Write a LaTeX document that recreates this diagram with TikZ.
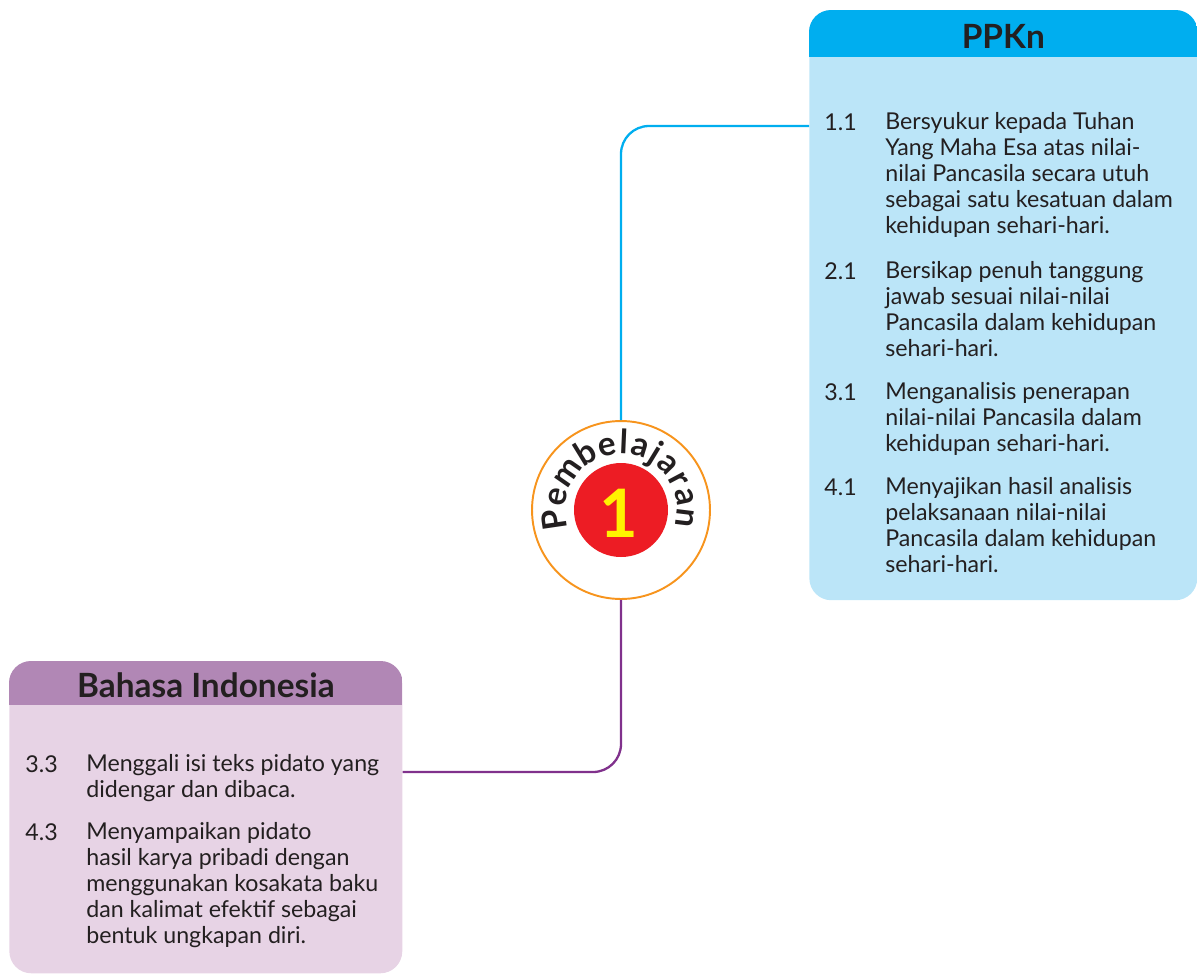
\documentclass[tikz,border=0pt]{standalone}
\usepackage{fontspec}
\setmainfont{Lato}
\usetikzlibrary{decorations.text}
\definecolor{ink}{HTML}{231F20}
\definecolor{ppkhead}{HTML}{00AEEF}
\definecolor{ppkbody}{HTML}{BBE5F8}
\definecolor{bindhead}{HTML}{B187B5}
\definecolor{bindbody}{HTML}{E7D3E5}
\definecolor{bindline}{HTML}{80318C}
\definecolor{ring}{HTML}{F7941D}
\definecolor{redspot}{HTML}{ED1C24}
\definecolor{sun}{HTML}{FFF200}
\begin{document}
\begin{tikzpicture}[x=0.02cm,y=-0.02cm,
    box/.style={anchor=north west,inner sep=0pt,rounded corners=0.44cm},
    title/.style={anchor=base,inner sep=0pt,text=ink,font=\fontsize{19}{20}\selectfont\bfseries},
    item/.style={anchor=north west,inner sep=0pt,align=left,text=ink,
        font=\fontsize{13.2}{14.9}\selectfont,execute at begin node=\strut},
    link/.style={line width=1.3pt,rounded corners=0.56cm}]
    \useasboundingbox (0,0) rectangle (1197,975);
    % PPKn box
    \node[box,fill=ppkbody,minimum width=7.76cm,minimum height=11.8cm] (ppkn) at (809,10) {};
    \begin{scope}
        \clip[rounded corners=0.44cm] (ppkn.north west) rectangle (ppkn.south east);
        \fill[ppkhead] (ppkn.north west) rectangle (ppkn.east |- 0,57);
    \end{scope}
    \node[title] (ppknt) at (ppkn.north |- 0,48) {PPKn};
    % Bahasa Indonesia box
    \node[box,fill=bindbody,minimum width=7.86cm,minimum height=6.24cm] (bind) at (9,661) {};
    \begin{scope}
        \clip[rounded corners=0.44cm] (bind.north west) rectangle (bind.south east);
        \fill[bindhead] (bind.north west) rectangle (bind.east |- 0,705);
    \end{scope}
    \node[title] (bindt) at (bind.north |- 0,697) {Bahasa Indonesia};
    % PPKn items
    \node[item] (p1n) at (824,111.6) {1.1};
    \node[item] (p1) at (885,111.6) {Bersyukur kepada Tuhan\\Yang Maha Esa atas nilai-\\nilai Pancasila secara utuh\\sebagai satu kesatuan dalam\\kehidupan sehari-hari.};
    \node[item] (p2n) at (824,260.6) {2.1};
    \node[item] (p2) at (885,260.6) {Bersikap penuh tanggung\\jawab sesuai nilai-nilai\\Pancasila dalam kehidupan\\sehari-hari.};
    \node[item] (p3n) at (824,381.6) {3.1};
    \node[item] (p3) at (885,381.6) {Menganalisis penerapan\\nilai-nilai Pancasila dalam\\kehidupan sehari-hari.};
    \node[item] (p4n) at (824,476.6) {4.1};
    \node[item] (p4) at (885,476.6) {Menyajikan hasil analisis\\pelaksanaan nilai-nilai\\Pancasila dalam kehidupan\\sehari-hari.};
    % Bahasa Indonesia items
    \node[item] (b1n) at (25,753.6) {3.3};
    \node[item] (b1) at (86,753.6) {Menggali isi teks pidato yang\\didengar dan dibaca.};
    \node[item] (b2n) at (25,821.6) {4.3};
    \node[item] (b2) at (86,821.6) {Menyampaikan pidato\\hasil karya pribadi dengan\\menggunakan kosakata baku\\dan kalimat efektif sebagai\\bentuk ungkapan diri.};
    % centre badge
    \node[circle,draw=ring,line width=1.1pt,fill=white,minimum size=3.56cm,inner sep=0pt] (pmb) at (621,510) {};
    \node[circle,fill=redspot,minimum size=1.88cm,inner sep=0pt] (spot) at (pmb) {};
    \node[text=sun,inner sep=0pt,font=\fontsize{38}{40}\selectfont\bfseries] (one) at (619,513) {1};
    \path[decorate,decoration={text along path,text align=fit to path,text color=ink,raise=-0.23cm,
        text={|\fontsize{19}{21}\selectfont\bfseries|Pembelajaran}}]
        ([shift={(197:1.35cm)}]pmb.center) arc[start angle=197,end angle=-15,radius=1.35cm];
    % connectors
    \coordinate (ppknin) at (ppkn.west |- 0,126);
    \coordinate (bindin) at (bind.east |- 0,772);
    \draw[link,ppkhead] (pmb.north) |- (ppknin);
    \draw[link,bindline] (pmb.south) |- (bindin);
\end{tikzpicture}
\end{document}
